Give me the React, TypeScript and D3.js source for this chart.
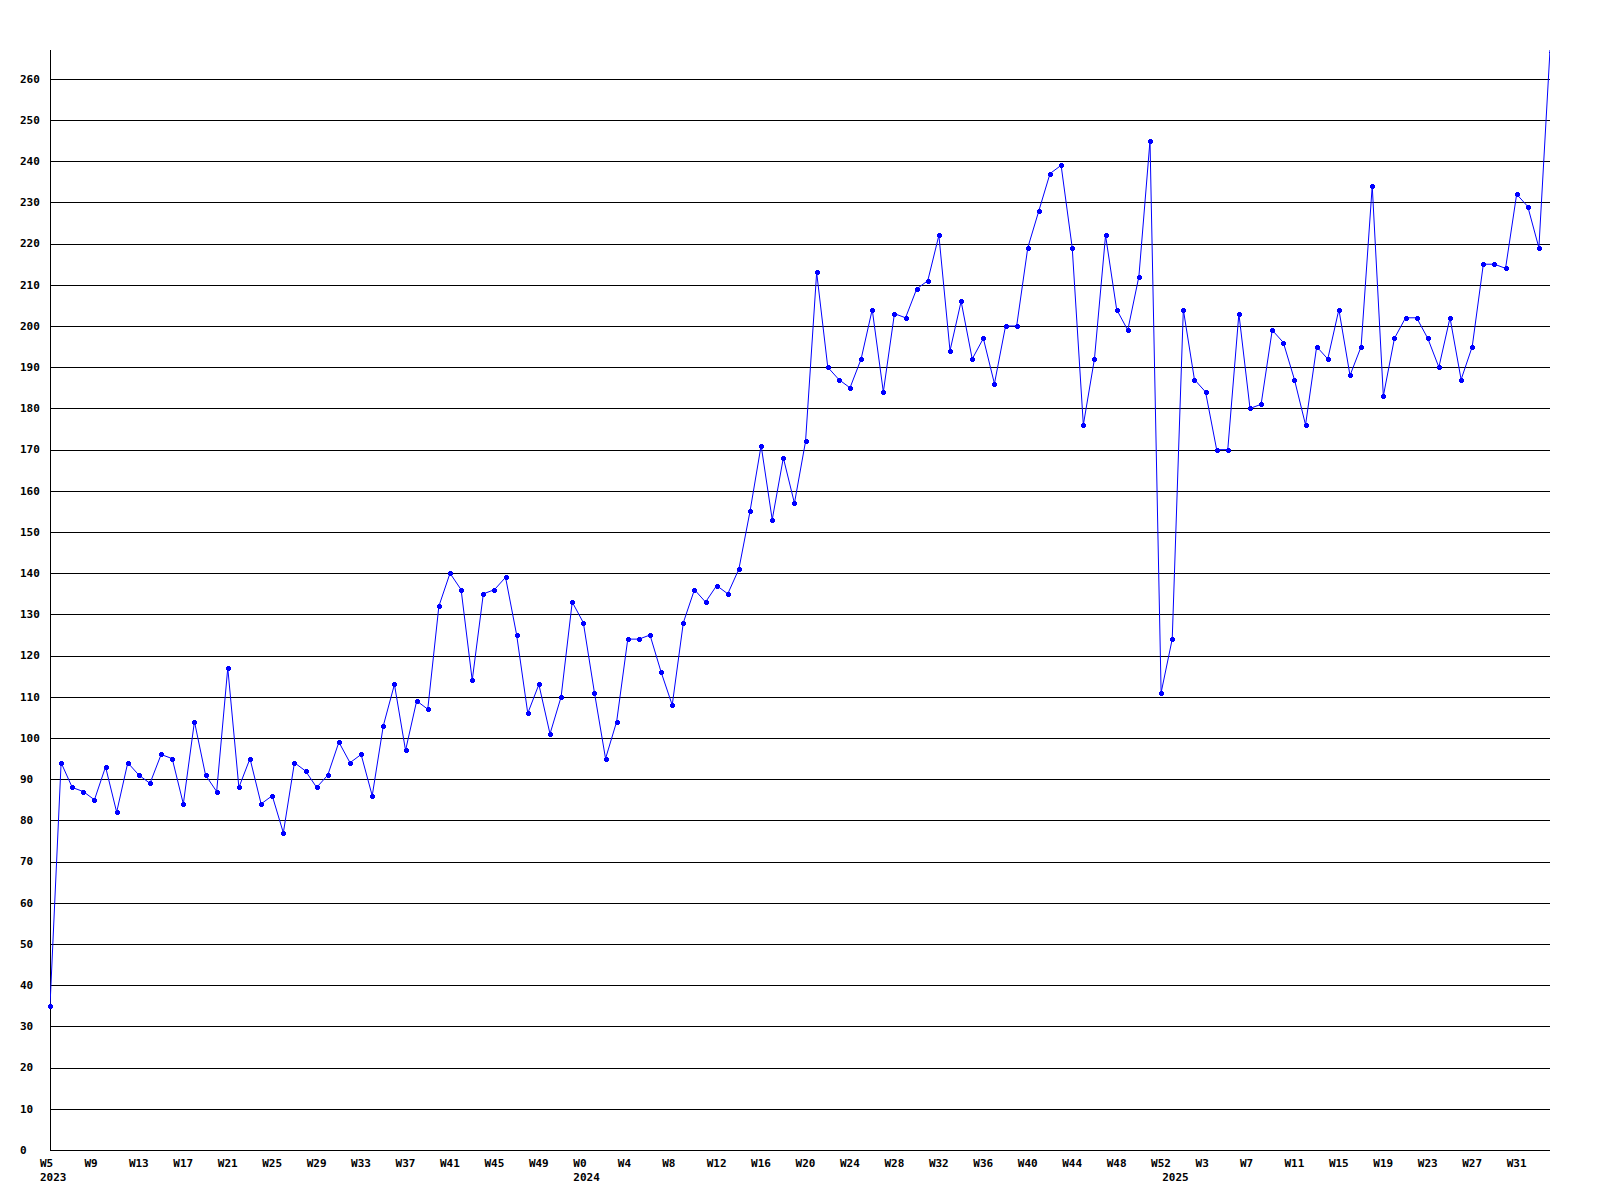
import React from "react";
import * as d3 from "d3";

// weekly counts, 2023 W5 .. 2025 W34
const values2023 = [
  35, 94, 88, 87, 85, 93, 82, 94, 91, 89, 96, 95, 84, 104, 91, 87, 117, 88, 95, 84,
  86, 77, 94, 92, 88, 91, 99, 94, 96, 86, 103, 113, 97, 109, 107, 132, 140, 136, 114, 135,
  136, 139, 125, 106, 113, 101, 110, 133,
];
const values2024 = [
  128, 111, 95, 104, 124, 124, 125, 116, 108, 128, 136, 133, 137, 135, 141, 155, 171, 153, 168, 157,
  172, 213, 190, 187, 185, 192, 204, 184, 203, 202, 209, 211, 222, 194, 206, 192, 197, 186, 200, 200,
  219, 228, 237, 239, 219, 176, 192, 222, 204, 199, 212, 245, 111,
];
const values2025 = [
  124, 204, 187, 184, 170, 170, 203, 180, 181, 199, 196, 187, 176, 195, 192, 204, 188, 195, 234, 183,
  197, 202, 202, 197, 190, 202, 187, 195, 215, 215, 214, 232, 229, 219, 267,
];

const years = [2023, 2024, 2025];
const firstWeeks = [5, 0, 0];
const yTicks = d3.range(0, 261, 10);
const labelEvery = 4;

const W = 1600;
const H = 1200;
const margin = { top: 50, right: 50, bottom: 50, left: 50 };

export default function App() {
  const series = [values2023, values2024, values2025];

  const points: { value: number; week: number; year: number; first: boolean }[] = [];
  series.forEach((vals, yi) => {
    vals.forEach((v, i) => {
      points.push({ value: v, week: firstWeeks[yi] + i, year: years[yi], first: i === 0 });
    });
  });

  const x = d3
    .scaleLinear()
    .domain([0, points.length - 1])
    .range([margin.left, W - margin.right]);
  const y = d3
    .scaleLinear()
    .domain([0, d3.max(points, (d) => d.value) ?? 0])
    .range([H - margin.bottom, margin.top]);

  const line = d3
    .line<{ value: number }>()
    .x((_, i) => x(i))
    .y((d) => y(d.value));

  const font = { fontFamily: "'DejaVu Sans Mono', monospace", fontWeight: "bold", fontSize: 11 } as const;
  const left = margin.left;
  const right = W - margin.right;
  const bottom = H - margin.bottom;

  return (
    <svg
      width={W}
      height={H}
      style={{ position: "absolute", left: 0, top: 0, background: "#fff" }}
    >
      <defs>
        <clipPath id="plot">
          <rect x={left} y={margin.top} width={right - left} height={bottom - margin.top} />
        </clipPath>
        <clipPath id="marks">
          <rect x={0} y={margin.top + 2} width={right} height={H - margin.top} />
        </clipPath>
      </defs>

      {/* gridlines + y labels */}
      {yTicks.map((t) => (
        <g key={t}>
          {t > 0 && (
            <line
              x1={left}
              x2={right}
              y1={Math.round(y(t)) + 0.5}
              y2={Math.round(y(t)) + 0.5}
              stroke="#000"
              strokeWidth={1}
              shapeRendering="crispEdges"
            />
          )}
          <text x={20} y={y(t)} dy="0.35em" {...font} fill="#000">
            {t}
          </text>
        </g>
      ))}

      {/* axes */}
      <line x1={left + 0.5} x2={left + 0.5} y1={margin.top} y2={bottom} stroke="#000" shapeRendering="crispEdges" />
      <line x1={left} x2={right} y1={bottom + 0.5} y2={bottom + 0.5} stroke="#000" shapeRendering="crispEdges" />

      {/* x labels */}
      {points.map((p, i) =>
        i % labelEvery === 0 ? (
          <text key={"w" + i} x={x(i) - 10} y={1163} dy="0.35em" {...font} fill="#000">
            {"W" + p.week}
          </text>
        ) : null
      )}
      {points.map((p, i) =>
        p.first ? (
          <text key={"y" + i} x={x(i) - 10} y={1177} dy="0.35em" {...font} fill="#000">
            {p.year}
          </text>
        ) : null
      )}

      <path d={line(points) ?? ""} fill="none" stroke="#0000ff" strokeWidth={1} clipPath="url(#plot)" />
      <g clipPath="url(#marks)">
        {points.map((p, i) => (
          <path
            key={"m" + i}
            transform={`translate(${Math.round(x(i))},${Math.round(y(p.value))})`}
            d="M-2,-1H3V2H-2Z M-1,-2H2V3H-1Z"
            fill="#0000ff"
            shapeRendering="crispEdges"
          />
        ))}
      </g>
    </svg>
  );
}
